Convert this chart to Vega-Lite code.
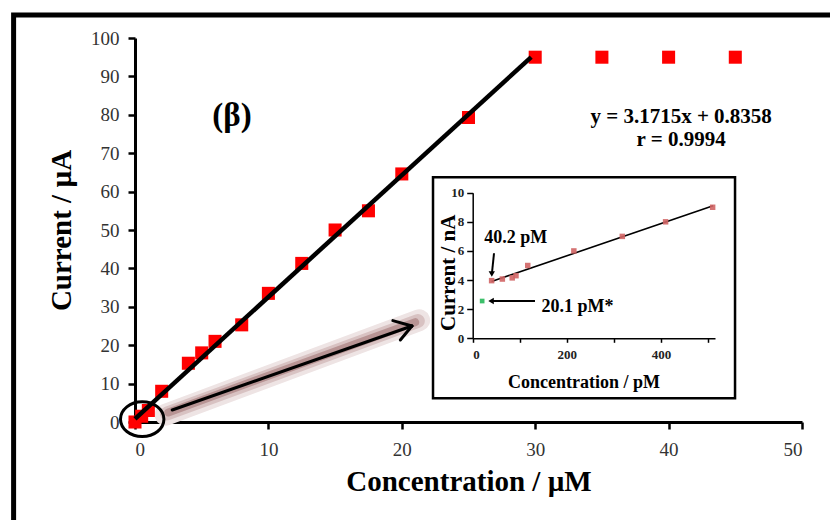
{
  "$schema": "https://vega.github.io/schema/vega-lite/v6.json",
  "width": 667,
  "height": 384,
  "autosize": {"type": "none"},
  "padding": {"left": 135, "top": 38, "right": 28, "bottom": 98},
  "background": "white",
  "config": {
    "view": {"stroke": null},
    "font": "Liberation Serif",
    "axis": {"grid": false, "labelOverlap": false}
  },
  "datasets": {
    "main": [
      {"x": 0, "y": 0}, {"x": 0.5, "y": 1.5}, {"x": 1, "y": 3}, {"x": 2, "y": 8},
      {"x": 4, "y": 15.3}, {"x": 5, "y": 18}, {"x": 6, "y": 21}, {"x": 8, "y": 25.3},
      {"x": 10, "y": 33.5}, {"x": 12.5, "y": 41.3}, {"x": 15, "y": 50}, {"x": 17.5, "y": 55},
      {"x": 20, "y": 64.6}, {"x": 25, "y": 79.3}, {"x": 30, "y": 95}, {"x": 35, "y": 95},
      {"x": 40, "y": 95}, {"x": 45, "y": 95}
    ],
    "fit": [{"x": 0, "y": 0.8358}, {"x": 29.7, "y": 95.03}],
    "inset": [
      {"px": 40.2, "ny": 3.96}, {"px": 63, "ny": 4.07}, {"px": 84, "ny": 4.15}, {"px": 92, "ny": 4.3},
      {"px": 117, "ny": 5.0}, {"px": 215, "ny": 6.0}, {"px": 318, "ny": 7.0}, {"px": 410, "ny": 8.0},
      {"px": 510, "ny": 9.0}
    ],
    "insetfit": [{"px": 40, "ny": 3.9}, {"px": 511, "ny": 9.1}]
  },
  "layer": [
    {
      "encoding": {
        "x": {"field": "x", "type": "quantitative", "scale": {"domain": [0, 50], "nice": false, "zero": false},
          "axis": {"values": [0, 10, 20, 30, 40, 50], "tickCount": 6, "labelOverlap": false, "title": "Concentration / µM", "titleFontSize": 29, "titleFontWeight": "bold", "titleColor": "black", "titlePadding": 8,
            "labelFontSize": 19, "labelColor": "#333", "labelPadding": 11, "tickSize": 7, "tickWidth": 2.5, "tickColor": "black", "domainColor": "black", "domainWidth": 3}},
        "y": {"field": "y", "type": "quantitative", "scale": {"domain": [0, 100], "nice": false, "zero": false},
          "axis": {"values": [0, 10, 20, 30, 40, 50, 60, 70, 80, 90, 100], "tickCount": 11, "labelOverlap": false, "title": "Current / µA", "titleFontSize": 29, "titleFontWeight": "bold", "titleColor": "black", "titlePadding": 14,
            "labelFontSize": 19, "labelColor": "#333", "labelPadding": 9, "tickSize": 7, "tickWidth": 2.5, "tickColor": "black", "domainColor": "black", "domainWidth": 3}}
      },
      "layer": [
        {
          "data": {"values": [{"x": -9.1, "x2": 60, "y": -40, "y2": 106}]},
          "mark": {"type": "rect", "fillOpacity": 0, "stroke": "black", "strokeWidth": 5},
          "encoding": {"x2": {"field": "x2"}, "y2": {"field": "y2"}}
        },
        {
          "data": {"values": [{"x": 2.3, "y": 1.9, "x2": 21.3, "y2": 26.5}]},
          "mark": {"type": "rule", "color": "#eee4e4", "strokeWidth": 22, "strokeCap": "round"},
          "encoding": {"x2": {"field": "x2"}, "y2": {"field": "y2"}}
        },
        {
          "data": {"values": [{"x": 2.4, "y": 2.2, "x2": 21.2, "y2": 26.3}]},
          "mark": {"type": "rule", "color": "#d8c2c2", "strokeWidth": 14, "strokeCap": "round"},
          "encoding": {"x2": {"field": "x2"}, "y2": {"field": "y2"}}
        },
        {
          "data": {"values": [{"x": 2.5, "y": 2.5, "x2": 21.0, "y2": 26.0}]},
          "mark": {"type": "rule", "color": "#b89494", "strokeWidth": 8, "strokeCap": "round"},
          "encoding": {"x2": {"field": "x2"}, "y2": {"field": "y2"}}
        },
        {
          "data": {"values": [
            {"x": 2.79, "y": 3.13, "x2": 20.76, "y2": 25.0},
            {"x": 19.33, "y": 26.4, "x2": 20.76, "y2": 25.0},
            {"x": 19.89, "y": 21.35, "x2": 20.76, "y2": 25.0}
          ]},
          "mark": {"type": "rule", "color": "black", "strokeWidth": 3, "strokeCap": "round"},
          "encoding": {"x2": {"field": "x2"}, "y2": {"field": "y2"}}
        },
        {
          "data": {"values": [{"x": 22.34, "x2": 44.98, "y": 6.17, "y2": 63.72}]},
          "mark": {"type": "rect", "fill": "white", "stroke": "black", "strokeWidth": 2.5},
          "encoding": {"x2": {"field": "x2"}, "y2": {"field": "y2"}}
        },
        {
          "data": {"name": "main"},
          "mark": {"type": "point", "shape": "square", "filled": true, "color": "#ff0000", "size": 170, "opacity": 1},
          "encoding": {}
        },
        {
          "data": {"name": "fit"},
          "mark": {"type": "line", "color": "black", "strokeWidth": 4.5},
          "encoding": {}
        },
        {
          "data": {"values": [{"x": 0.54, "y": 0.73}]},
          "mark": {"type": "point", "shape": "M -1 0 A 1 0.8 0 1 0 1 0 A 1 0.8 0 1 0 -1 0 Z", "filled": false, "color": "black", "strokeWidth": 3, "size": 1884, "opacity": 1},
          "encoding": {}
        },
        {
          "data": {"values": [
            {"x": 7.27, "y": 79.7, "t": "(β)", "s": 33},
            {"x": 40.94, "y": 79.4, "t": "y = 3.1715x + 0.8358", "s": 21},
            {"x": 40.94, "y": 73.4, "t": "r = 0.9994", "s": 21}
          ]},
          "mark": {"type": "text", "fontWeight": "bold", "color": "black", "baseline": "middle", "align": "center", "font": "Liberation Serif"},
          "encoding": {"text": {"field": "t"}, "size": {"field": "s", "type": "quantitative", "scale": null}}
        }
      ]
    },
    {
      "layer": [
        {
          "data": {"name": "insetfit"},
          "mark": {"type": "line", "color": "black", "strokeWidth": 1.6},
          "encoding": {
            "x": {"field": "px", "type": "quantitative", "scale": {"domain": [0, 515], "range": [337.7, 580], "nice": false, "zero": false},
              "axis": {"orient": "bottom", "offset": -83.7, "zindex": 2, "values": [0, 100, 200, 300, 400, 500], "labelOverlap": false, "labelExpr": "datum.value % 200 == 0 ? datum.label : ''", "title": null,
                "labelFontSize": 13, "labelFontWeight": "bold", "labelColor": "#222", "labelPadding": 6, "tickSize": 4, "tickWidth": 1.5, "tickColor": "black", "domainColor": "black", "domainWidth": 1.5}},
            "y": {"field": "ny", "type": "quantitative", "scale": {"domain": [0, 10], "range": [300.3, 154.7], "nice": false, "zero": false},
              "axis": {"orient": "left", "offset": -337.7, "zindex": 2, "values": [0, 2, 4, 6, 8, 10], "labelOverlap": false, "title": null,
                "labelFontSize": 13, "labelFontWeight": "bold", "labelColor": "#222", "labelPadding": 3, "tickSize": 6, "tickWidth": 1.5, "tickColor": "black", "domainColor": "black", "domainWidth": 1.5}}
          }
        },
        {
          "data": {"name": "inset"},
          "mark": {"type": "point", "shape": "square", "filled": true, "color": "#d06464", "size": 30, "opacity": 0.9},
          "encoding": {"x": {"field": "px", "type": "quantitative"}, "y": {"field": "ny", "type": "quantitative"}}
        },
        {
          "data": {"values": [{"px": 20.1, "ny": 2.56}]},
          "mark": {"type": "point", "shape": "square", "filled": true, "color": "#3cbf6a", "size": 22, "opacity": 1},
          "encoding": {"x": {"field": "px", "type": "quantitative"}, "y": {"field": "ny", "type": "quantitative"}}
        },
        {
          "data": {"values": [
            {"px": 45.3, "ny": 5.84, "px2": 40.8, "ny2": 4.45},
            {"px": 132.4, "ny": 2.56, "px2": 38, "ny2": 2.56}
          ]},
          "mark": {"type": "rule", "color": "black", "strokeWidth": 2},
          "encoding": {"x": {"field": "px", "type": "quantitative"}, "y": {"field": "ny", "type": "quantitative"}, "x2": {"field": "px2"}, "y2": {"field": "ny2"}}
        },
        {
          "data": {"values": [{"px": 40.6, "ny": 4.42, "sh": "triangle-down"}, {"px": 39.0, "ny": 2.56, "sh": "triangle-left"}]},
          "mark": {"type": "point", "filled": true, "color": "black", "size": 40, "opacity": 1},
          "encoding": {"x": {"field": "px", "type": "quantitative"}, "y": {"field": "ny", "type": "quantitative"},
            "shape": {"field": "sh", "type": "nominal", "scale": null}}
        },
        {
          "data": {"values": [
            {"px": 91.6, "ny": 6.92, "t": "40.2 pM", "s": 18, "a": 0},
            {"px": 222.7, "ny": 2.12, "t": "20.1 pM*", "s": 18, "a": 0},
            {"px": 236.6, "ny": -3.07, "t": "Concentration / pM", "s": 18, "a": 0},
            {"px": -50.4, "ny": 4.5, "t": "Current / nA", "s": 21, "a": 270}
          ]},
          "mark": {"type": "text", "fontWeight": "bold", "color": "black", "baseline": "middle", "align": "center", "font": "Liberation Serif"},
          "encoding": {"x": {"field": "px", "type": "quantitative"}, "y": {"field": "ny", "type": "quantitative"}, "text": {"field": "t"},
            "size": {"field": "s", "type": "quantitative", "scale": null},
            "angle": {"field": "a", "type": "quantitative", "scale": null}}
        }
      ]
    }
  ],
  "resolve": {"scale": {"x": "independent", "y": "independent"}, "axis": {"x": "independent", "y": "independent"}}
}
